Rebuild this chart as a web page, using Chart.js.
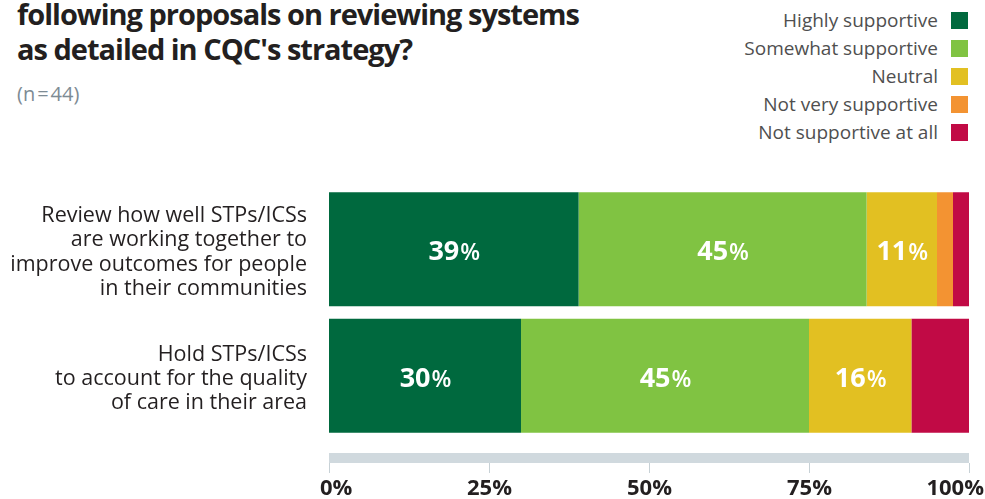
<!DOCTYPE html>
<html>
<head>
<meta charset="utf-8">
<script src="https://cdn.jsdelivr.net/npm/chart.js@4"></script>
<style>
  html, body { margin: 0; padding: 0; background: #fff; }
  body { width: 985px; height: 499px; position: relative; overflow: hidden; font-family: "Open Sans", sans-serif; }
  #wrap { position: absolute; left: 0; top: 0; width: 985px; height: 499px; }
  #title { position: absolute; left: 17px; top: -4px; font-weight: 700; font-size: 29px; line-height: 35px; letter-spacing: -1px; color: #231f20; white-space: nowrap; }
  #sub { position: absolute; left: 17px; top: 84px; font-size: 20px; line-height: 20px; color: #7d8b94; }
  #legend { position: absolute; right: 17px; top: 6px; }
  .li { display: flex; align-items: center; justify-content: flex-end; height: 28px; font-size: 19px; color: #4f4f4f; }
  .sw { width: 17px; height: 17px; margin-left: 13px; }
</style>
</head>
<body>
<div id="title">following proposals on reviewing systems<br>as detailed in CQC's strategy?</div>
<div id="sub">(n&#8202;=&#8202;44)</div>
<div id="legend"></div>
<div id="wrap"><canvas id="chart" width="985" height="499"></canvas></div>
<script>
// Categories (one array of lines per bar)
const categories = [
  ['Review how well STPs/ICSs', 'are working together to', 'improve outcomes for people', 'in their communities'],
  ['Hold STPs/ICSs', 'to account for the quality', 'of care in their area']
];
const seriesNames  = ['Highly supportive', 'Somewhat supportive', 'Neutral', 'Not very supportive', 'Not supportive at all'];
const seriesColors = ['#00693e', '#80c342', '#e2c022', '#f39332', '#c10a45'];

// % of respondents per answer
const highly   = [39, 30];
const somewhat = [45, 45];
const neutral  = [11, 16];
const notVery  = [2.5, 0];
const notAtAll = [2.5, 9];

const xTicks = [0, 25, 50, 75, 100];

const seriesValues = [highly, somewhat, neutral, notVery, notAtAll];

// legend on the top right, text before the swatch
const legendDiv = document.getElementById('legend');
seriesNames.forEach((name, i) => {
  const row = document.createElement('div');
  row.className = 'li';
  row.innerHTML = `<span>${name}</span><span class="sw" style="background:${seriesColors[i]}"></span>`;
  legendDiv.appendChild(row);
});

// grey axis band with tick marks and bold % labels underneath
const axisBand = {
  id: 'axisBand',
  afterDraw(chart) {
    const { ctx, chartArea, scales: { x } } = chart;
    const top = chartArea.bottom + 14;
    ctx.save();
    ctx.fillStyle = '#d0d9de';
    ctx.fillRect(x.left, top, x.right - x.left, 10);
    ctx.strokeStyle = '#c7d1d6';
    ctx.lineWidth = 1;
    ctx.font = '700 22px "Open Sans"';
    ctx.fillStyle = '#231f20';
    ctx.textBaseline = 'alphabetic';
    ctx.textAlign = 'left';
    xTicks.forEach(v => {
      const px = Math.round(x.getPixelForValue(v)) + 0.5;
      ctx.beginPath();
      ctx.moveTo(px, top + 10);
      ctx.lineTo(px, top + 20);
      ctx.stroke();
      const txt = v + '%';
      const w = ctx.measureText(txt).width;
      const left = Math.max(320, Math.min(px - w / 2, 984 - w));
      ctx.fillText(txt, left, 495);
    });
    ctx.restore();
  }
};

// white value labels inside the larger segments
const valueLabels = {
  id: 'valueLabels',
  afterDatasetsDraw(chart) {
    const { ctx } = chart;
    ctx.save();
    ctx.fillStyle = '#fff';
    ctx.textBaseline = 'alphabetic';
    ctx.textAlign = 'left';
    chart.data.datasets.forEach((ds, di) => {
      chart.getDatasetMeta(di).data.forEach((bar, i) => {
        const v = ds.data[i];
        if (v < 10) return;
        const num = String(Math.round(v));
        ctx.font = '700 27px "Open Sans"';
        const wn = ctx.measureText(num).width;
        ctx.font = '600 23px "Open Sans"';
        const wp = ctx.measureText('%').width;
        const cx = (bar.x + bar.base) / 2;
        const base = bar.y + 11;
        const left = cx - (wn + wp) / 2;
        ctx.font = '700 27px "Open Sans"';
        ctx.fillText(num, left, base);
        ctx.font = '600 23px "Open Sans"';
        ctx.fillText('%', left + wn + 1, base);
      });
    });
    ctx.restore();
  }
};

new Chart(document.getElementById('chart'), {
  type: 'bar',
  data: {
    labels: categories,
    datasets: seriesNames.map((name, i) => ({
      label: name,
      data: seriesValues[i],
      backgroundColor: seriesColors[i],
      borderWidth: 0,
      barPercentage: 0.9,
      categoryPercentage: 1
    }))
  },
  options: {
    indexAxis: 'y',
    responsive: false,
    animation: false,
    layout: { padding: { top: 186, bottom: 60, left: 0, right: 16 } },
    plugins: { legend: { display: false }, tooltip: { enabled: false } },
    scales: {
      x: { stacked: true, min: 0, max: 100, display: false },
      y: {
        stacked: true,
        grid: { display: false, drawTicks: false },
        border: { display: false },
        ticks: { color: '#231f20', font: { family: 'Open Sans', size: 21.5, lineHeight: 1.13 }, padding: 22, labelOffset: 3 },
        afterFit(scale) {
          scale.width = 329;
          scale.paddingTop = 0;
          scale.paddingBottom = 0;
        }
      }
    }
  },
  plugins: [axisBand, valueLabels]
});
</script>
</body>
</html>
